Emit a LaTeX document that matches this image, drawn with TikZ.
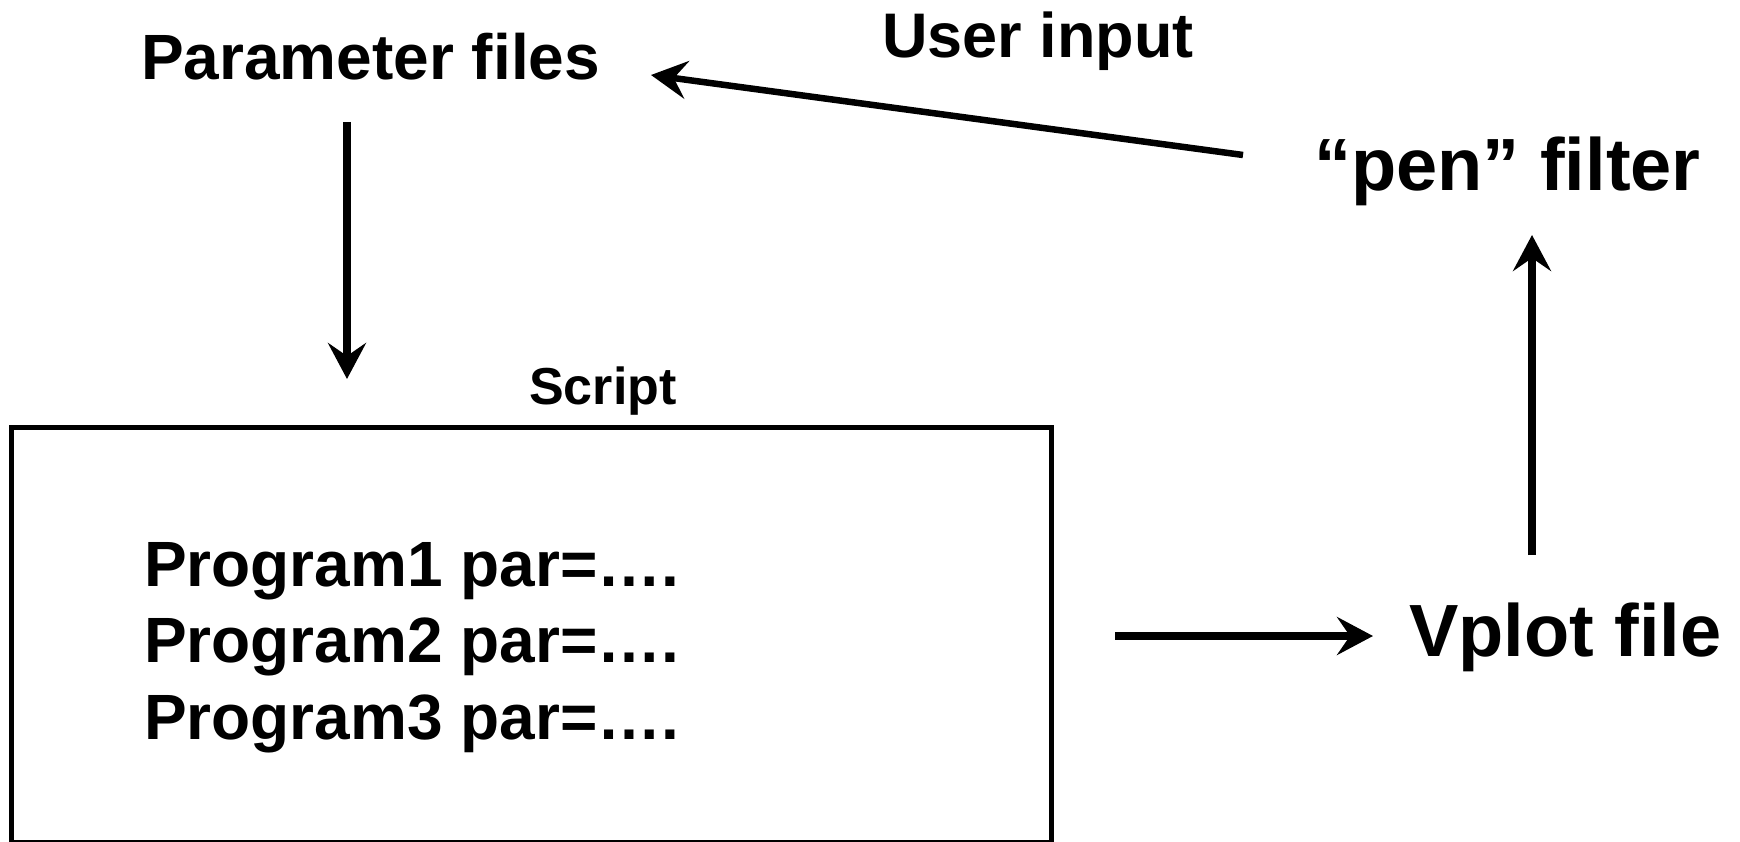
\documentclass[tikz,border=0pt]{standalone}
\usepackage{fontspec}
\setmainfont{Liberation Sans}
\usetikzlibrary{arrows.meta}
\tikzset{
  lbl/.style={inner sep=0pt, anchor=base west, font=\bfseries},
  conn/.style={line width=7.5pt, -{Stealth[length=36pt, width=38pt, inset=13pt]}},
  scriptbox/.style={draw, line width=5pt}
}
\begin{document}
\begin{tikzpicture}[x=1pt, y=-1pt]
\useasboundingbox (0,0) rectangle (1740,842);
% texts
\node[lbl, font=\bfseries\fontsize{64}{76}\selectfont] (param) at (141,80) {Parameter files};
\node[lbl, font=\bfseries\fontsize{63}{76}\selectfont] (user) at (882,58) {User input};
\node[lbl, font=\bfseries\fontsize{74}{89}\selectfont] (pen) at (1314,191) {“pen” filter};
\node[lbl, font=\bfseries\fontsize{74}{89}\selectfont] (vplot) at (1409,656) {Vplot file};
\node[lbl, font=\bfseries\fontsize{52}{62}\selectfont] (script) at (529,404) {Script};
\draw[scriptbox] (11,427) rectangle (1051,842);
\node[lbl, font=\bfseries\fontsize{64}{76.5}\selectfont] (p1) at (144,586) {Program1 par=….};
\node[lbl, font=\bfseries\fontsize{64}{76.5}\selectfont] (p2) at (144,662) {Program2 par=….};
\node[lbl, font=\bfseries\fontsize{64}{76.5}\selectfont] (p3) at (144,739) {Program3 par=….};
% connector end points
\coordinate (a1s) at (347,122);
\coordinate (a1e) at (347,379);
\coordinate (a2s) at (1243,155);
\coordinate (a2e) at (651,75);
\coordinate (a3s) at (1115,636);
\coordinate (a3e) at (1373,636);
\coordinate (a4s) at (1532,555);
\coordinate (a4e) at (1532,235);
\draw[conn] (a1s) -- (a1e);
\draw[conn, line width=6.5pt] (a2s) -- (a2e);
\draw[conn] (a3s) -- (a3e);
\draw[conn] (a4s) -- (a4e);
\end{tikzpicture}
\end{document}
